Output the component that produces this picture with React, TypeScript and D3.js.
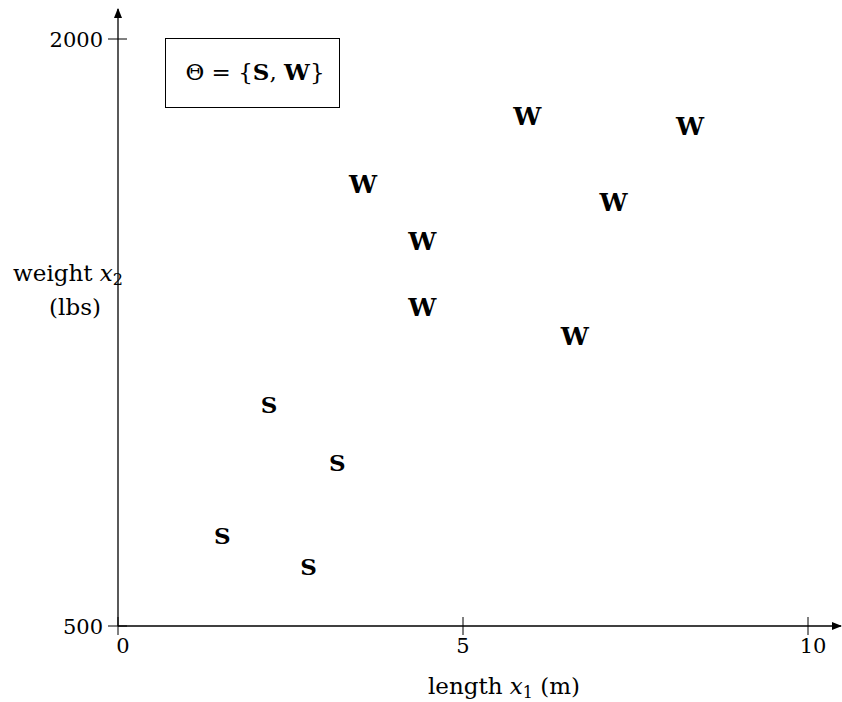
import React from "react";
import * as d3 from "d3";

const sPoints: [number, number][] = [
  [1.51, 730],
  [2.19, 1065],
  [3.18, 918],
  [2.76, 652],
];
const wPoints: [number, number][] = [
  [3.55, 1630],
  [4.41, 1484],
  [4.41, 1315],
  [5.93, 1802],
  [7.18, 1583],
  [6.62, 1241],
  [8.29, 1777],
];
const xTicks = [0, 5, 10];
const yTicks = [500, 2000];

const W = 842;
const H = 702;
const FONT = "DejaVu Serif, serif";

export default function App() {
  const x = d3.scaleLinear().domain([0, 10]).range([118, 808]);
  const y = d3.scaleLinear().domain([500, 2000]).range([626, 39]);
  const x0 = x(0);
  const y0 = y(500);
  const fs = 21;
  const lf = 23;
  return (
    <svg
      width={W}
      height={H}
      style={{ position: "absolute", left: 0, top: 0, background: "#fff", fontFamily: FONT }}
    >
      <defs>
        <marker id="arr" viewBox="0 0 10 10" refX="9" refY="5" markerWidth="8" markerHeight="8" orient="auto">
          <path d="M0,1 L10,5 L0,9 z" fill="#000" />
        </marker>
      </defs>
      {/* axes */}
      <line x1={x0} y1={y0} x2={841} y2={y0} stroke="#000" strokeWidth={1.3} markerEnd="url(#arr)" />
      <line x1={x0} y1={y0} x2={x0} y2={9} stroke="#000" strokeWidth={1.3} markerEnd="url(#arr)" />
      {xTicks.map((t, i) => (
        <g key={"x" + t}>
          <line x1={x(t)} x2={x(t)} y1={y0 - 9} y2={y0 + 9} stroke="#000" strokeWidth={1} />
          <text x={x(t) + (i === 1 ? 0 : 5)} y={y0 + 27} fontSize={fs} textAnchor="middle">
            {t}
          </text>
        </g>
      ))}
      {yTicks.map((t) => (
        <g key={"y" + t}>
          <line x1={x0 - 10} x2={x0 + 9} y1={y(t)} y2={y(t)} stroke="#000" strokeWidth={1} />
          <text x={x0 - 15} y={y(t) + 8} fontSize={fs} textAnchor="end">
            {t}
          </text>
        </g>
      ))}
      {/* axis labels */}
      <text x={504} y={694} fontSize={lf} textAnchor="middle">
        length <tspan fontStyle="italic">x</tspan>
        <tspan fontSize={16} dy={4}>1</tspan>
        <tspan dy={-4}> (m)</tspan>
      </text>
      <text x={123} y={281} fontSize={lf} textAnchor="end">
        weight <tspan fontStyle="italic">x</tspan>
        <tspan fontSize={16} dy={4}>2</tspan>
      </text>
      <text x={75} y={315} fontSize={lf} textAnchor="middle">
        (lbs)
      </text>
      {/* legend box */}
      <rect x={165.5} y={38.5} width={174} height={69} fill="none" stroke="#000" strokeWidth={1} />
      <text x={255} y={80} fontSize={lf} textAnchor="middle">
        Θ = {"{"}
        <tspan fontWeight="bold">S</tspan>, <tspan fontWeight="bold">W</tspan>
        {"}"}
      </text>
      {/* points */}
      {sPoints.map(([a, b], i) => (
        <text key={"s" + i} x={x(a)} y={y(b)} dy="0.36em" fontSize={23} fontWeight="bold" textAnchor="middle">
          S
        </text>
      ))}
      {wPoints.map(([a, b], i) => (
        <text key={"w" + i} x={x(a)} y={y(b)} dy="0.36em" fontSize={25} fontWeight="bold" textAnchor="middle">
          W
        </text>
      ))}
    </svg>
  );
}
